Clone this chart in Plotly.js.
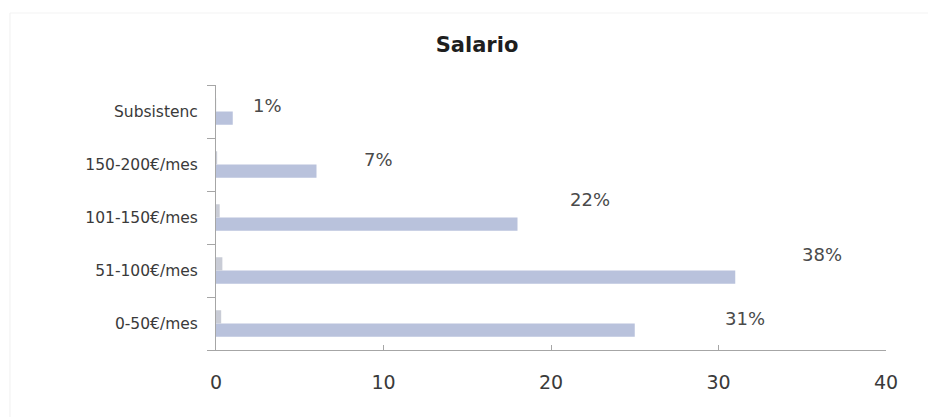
<!DOCTYPE html>
<html>
<head>
<meta charset="utf-8">
<script src="https://cdn.plot.ly/plotly-3.0.1.min.js"></script>
<style>html,body{margin:0;padding:0;background:#fff;}#chart{width:928px;height:417px;}</style>
</head>
<body>
<div id="chart"></div>
<script>
// Data
const categories = ["0-50€/mes", "51-100€/mes", "101-150€/mes", "150-200€/mes", "Subsistenc"];
const counts = [25, 31, 18, 6, 1];
const shares = [0.31, 0.38, 0.22, 0.07, 0.01];
const xTicks = [0, 10, 20, 30, 40];

// Label placement (layout only)
const labelX = [31.6, 36.2, 22.3, 9.7, 3.1];
const labelDy = [0.09, 0.30, 0.34, 0.10, 0.11];

const traces = [
  {type: "bar", orientation: "h", y: categories, x: counts,
   marker: {color: "#b9c2dc"}, hoverinfo: "x+y", showlegend: false},
  {type: "bar", orientation: "h", y: categories, x: shares,
   marker: {color: "#c9ccd6"}, hoverinfo: "x+y", showlegend: false}
];

const annotations = categories.map((c, i) => ({
  x: labelX[i], y: i + labelDy[i], xref: "x", yref: "y",
  text: Math.round(shares[i] * 100) + "%", showarrow: false,
  font: {family: "DejaVu Sans", size: 18, color: "#4a4a4a"},
  xanchor: "center", yanchor: "middle"
}));

const layout = {
  width: 928, height: 417,
  margin: {l: 216, r: 42, t: 85, b: 67},
  paper_bgcolor: "#ffffff", plot_bgcolor: "#ffffff",
  barmode: "group", bargap: 0.5, bargroupgap: 0,
  title: {text: "<b>Salario</b>", x: 0.514, xref: "container", xanchor: "center",
          y: 0.892, yref: "container", yanchor: "middle",
          font: {family: "DejaVu Sans", size: 21, color: "#1e1e1e"}},
  xaxis: {range: [0, 40], tickvals: xTicks, ticktext: xTicks.map(String),
          showgrid: false, zeroline: false, showline: true, linecolor: "#a6a6a6", linewidth: 1,
          ticks: "inside", ticklen: 5, tickcolor: "#a6a6a6",
          ticklabelstandoff: 15,
          tickfont: {family: "DejaVu Sans", size: 19, color: "#3a3a3a"}, fixedrange: true},
  yaxis: {type: "category", categoryorder: "array", categoryarray: categories,
          showgrid: false, zeroline: false, showline: true, linecolor: "#a6a6a6", linewidth: 1,
          ticks: "outside", tickson: "boundaries", ticklen: 8, tickcolor: "#a6a6a6",
          ticklabelstandoff: 14,
          tickfont: {family: "DejaVu Sans", size: 15.5, color: "#3a3a3a"}, fixedrange: true},
  annotations: annotations,
  shapes: [
    {type: "line", xref: "paper", yref: "paper", x0: -0.3075, x1: -0.3075, y0: -1, y1: 1.2717,
     line: {color: "#f0f0f0", width: 1}, layer: "below"},
    {type: "line", xref: "paper", yref: "paper", x0: -0.3075, x1: 1.2, y0: 1.2717, y1: 1.2717,
     line: {color: "#f3f3f3", width: 1}, layer: "below"}
  ]
};

Plotly.newPlot("chart", traces, layout, {displayModeBar: false, staticPlot: true});
</script>
</body>
</html>
